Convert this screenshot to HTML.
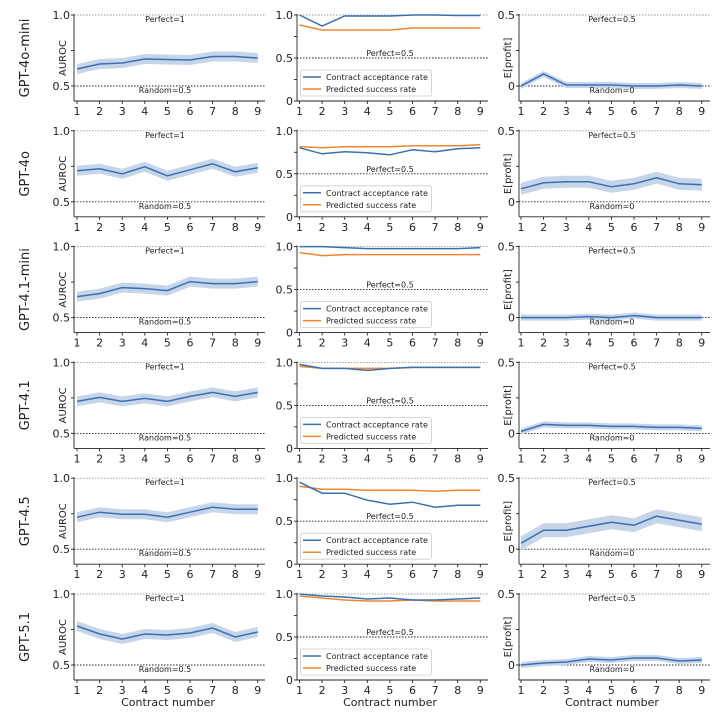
<!DOCTYPE html><html><head><style>body{margin:0;background:#fff}svg{display:block;font-family:"DejaVu Sans","Liberation Sans",sans-serif}</style></head><body>
<svg id="s" width="720" height="720" xmlns="http://www.w3.org/2000/svg"></svg>
<script>
const B="#3a70b0",O="#f08532",BAND="#c6d5ea";
const names=["GPT-4o-mini","GPT-4o","GPT-4.1-mini","GPT-4.1","GPT-4.5","GPT-5.1"];
const L=[[54,49,48,44,44.5,45,41.5,41.5,43],[40,38,43,36,45,39,33,41,37],[50,47,41,42,44,35,37,37,35],[39,35,39,36,39,34,30,34,30],[39,34,36,36,39,34,29,31,31],[32,40,45,40,41,39,34,43,38]];
const MB=[[0,11,1,1,1,0,0,0.5,0.5],[17,23,21,22,24,19,21,18,17],[0,0,1,2,2,2,2,2,1],[2,6,6,8,6,5,5,5,5],[4,15,15,22,26,24,29,27,27],[0,2,3,5,4,6,6,5,4]];
const MO=[[10,15,15,15,15,13,13,13,13],[16,17,16,16,16,15,15,15,14],[6,9,8,8,8,8,8,8,8],[4,6,6,6,6,5,5,5,5],[8,11,11,12,12,12,13,12,12],[2,4,6,7,7,6,7,7,7]];
const R=[[71,59,70,70,70,71,71,70,71],[58,52,51,51,56,53,47,53,54],[71,71,71,70,71,69,71,71,71],[69,62,63,63,64,64,65,65,66],[65,52,52,48,44,47,38,42,46],[71,69,68,65,66,64,64,67,66]];
let h="";
const T=(x,y,t,s,a,extra)=>`<text x="${x}" y="${y}" font-size="${s}" text-anchor="${a||'middle'}" fill="#222" ${extra||''}>${t}</text>`;
function line(x0,d,top,c){return `<polyline fill="none" stroke="${c}" stroke-width="1.5" points="${d.map((v,i)=>(x0+i*22.6)+","+(top+v)).join(" ")}"/>`}
function band(x0,d,top,w){let a=d.map((v,i)=>(x0+i*22.6)+","+(top+v-w)),b=d.map((v,i)=>(x0+i*22.6)+","+(top+v+w)).reverse();return `<polygon fill="${BAND}" points="${a.concat(b).join(" ")}"/>`}
function axes(sx,x0,top,ticks,labels){
 let s=`<line x1="${sx}" y1="${top-1}" x2="${sx}" y2="${top+86}" stroke="#222" stroke-width="0.9"/><line x1="${sx}" y1="${top+86}" x2="${sx+191}" y2="${top+86}" stroke="#222" stroke-width="0.9"/>`;
 ticks.forEach(t=>s+=`<line x1="${sx-3}" y1="${top+t}" x2="${sx}" y2="${top+t}" stroke="#222" stroke-width="0.9"/>`);
 labels.forEach(([t,l])=>s+=T(sx-4,top+t+4,l,11,"end"));
 for(let i=0;i<9;i++){let x=x0+i*22.6;s+=`<line x1="${x}" y1="${top+86}" x2="${x}" y2="${top+89}" stroke="#222" stroke-width="0.9"/>`+T(x,top+100,i+1,11)}
 return s;}
for(let r=0;r<6;r++){
 const top=15+115.8*r;
 h+=T(0,0,names[r],13,"middle",`transform="translate(29,${top+43}) rotate(-90)"`);
 h+=`<line x1="74" y1="${top}" x2="265" y2="${top}" stroke="#999" stroke-dasharray="1.5,1.5" stroke-width="0.9"/><line x1="74" y1="${top+71}" x2="265" y2="${top+71}" stroke="#222" stroke-dasharray="1.5,1.5" stroke-width="0.9"/>`;
 h+=band(77,L[r],top,5)+line(77,L[r],top,B);
 h+=axes(74,77,top,[0,35.5,71],[[0,"1.0"],[71,"0.5"]]);
 h+=T(165,top+7,"Perfect=1",8)+T(165,top+78,"Random=0.5",8);
 h+=T(0,0,"AUROC",10,"middle",`transform="translate(66,${top+43}) rotate(-90)"`);
 h+=`<line x1="297" y1="${top}" x2="488" y2="${top}" stroke="#999" stroke-dasharray="1.5,1.5" stroke-width="0.9"/><line x1="297" y1="${top+43}" x2="488" y2="${top+43}" stroke="#222" stroke-dasharray="1.5,1.5" stroke-width="0.9"/>`;
 h+=line(299.5,MO[r],top,O)+line(299.5,MB[r],top,B);
 h+=axes(297,299.5,top,[0,21.5,43,64.5,86],[[0,"1.0"],[43,"0.5"],[86,"0"]]);
 h+=T(390,top+41,"Perfect=0.5",8);
 h+=`<rect x="300.5" y="${top+55}" width="131" height="26" rx="2" fill="#fff" stroke="#ccc" stroke-width="0.8"/><line x1="303" y1="${top+62}" x2="321" y2="${top+62}" stroke="${B}" stroke-width="1.5"/><line x1="303" y1="${top+74}" x2="321" y2="${top+74}" stroke="${O}" stroke-width="1.5"/>`+T(326,top+65,"Contract acceptance rate",8,"start")+T(326,top+77,"Predicted success rate",8,"start");
 h+=`<line x1="519" y1="${top}" x2="710" y2="${top}" stroke="#999" stroke-dasharray="1.5,1.5" stroke-width="0.9"/><line x1="519" y1="${top+71}" x2="710" y2="${top+71}" stroke="#222" stroke-dasharray="1.5,1.5" stroke-width="0.9"/>`;
 h+=band(521,R[r],top,r==4?7:(r==1?6:3))+line(521,R[r],top,B);
 h+=axes(519,521,top,[0,35.5,71],[[0,"0.5"],[71,"0"]]);
 h+=T(612,top+7,"Perfect=0.5",8)+T(612,top+78,"Random=0",8);
 h+=T(0,0,"E[profit]",10,"middle",`transform="translate(511,${top+43}) rotate(-90)"`);
}
h+=T(168,706,"Contract number",11)+T(390,706,"Contract number",11)+T(612,706,"Contract number",11);
document.getElementById("s").innerHTML=h;
</script>
</body></html>
